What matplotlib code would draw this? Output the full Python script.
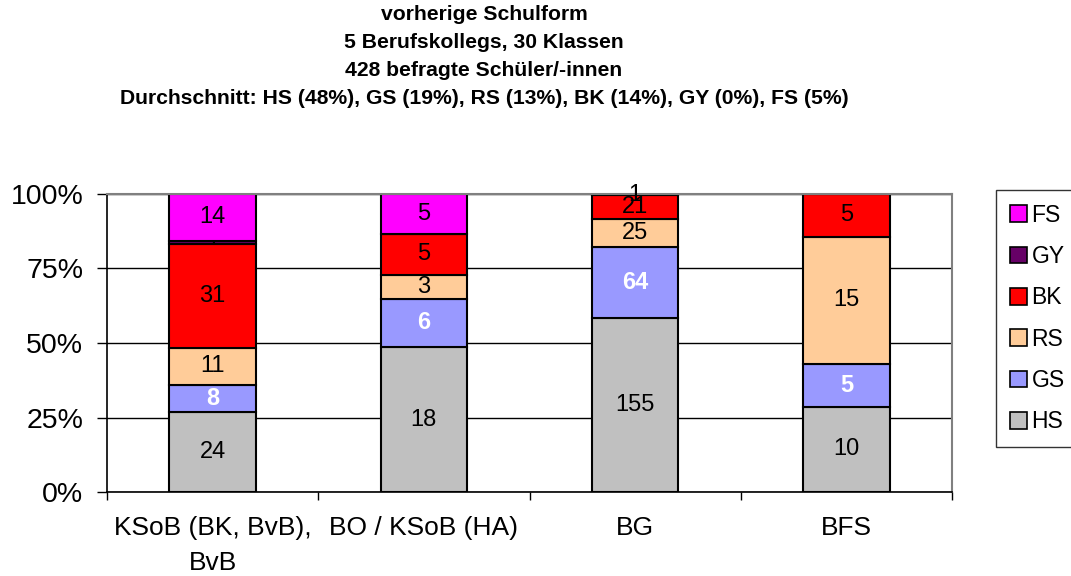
import matplotlib
matplotlib.use("Agg")
import matplotlib.pyplot as plt
from matplotlib.patches import Patch
from matplotlib.transforms import Bbox, TransformedBbox

plt.rcParams["font.family"] = ["Liberation Sans", "DejaVu Sans"]

categories = ["KSoB (BK, BvB),\nBvB", "BO / KSoB (HA)", "BG", "BFS"]
series = ["HS", "GS", "RS", "BK", "GY", "FS"]
colors = ["#C0C0C0", "#9999FF", "#FFCC99", "#FF0000", "#660066", "#FF00FF"]

hs = [24, 18, 155, 10]
gs = [8, 6, 64, 5]
rs = [11, 3, 25, 15]
bk = [31, 5, 21, 5]
gy = [1, 0, 1, 0]
fs = [14, 5, 0, 0]

title_lines = [
	"vorherige Schulform",
	"5 Berufskollegs, 30 Klassen",
	"428 befragte Schüler/-innen",
	"Durchschnitt: HS (48%), GS (19%), RS (13%), BK (14%), GY (0%), FS (5%)",
]

values = [hs, gs, rs, bk, gy, fs]
totals = [sum(col) for col in zip(*values)]
bar_width = 0.41

fig = plt.figure(figsize=(10.71, 5.76), dpi=100)
ax = fig.add_axes([107 / 1071, 84 / 576, 845 / 1071, 298 / 576])

x = list(range(len(categories)))
bottom = [0.0] * len(categories)
for name, vals, color in zip(series, values, colors):
	frac = [v / t for v, t in zip(vals, totals)]
	ax.bar(
		x, frac, width=bar_width, bottom=bottom, color=color,
		edgecolor="black", linewidth=1.5, zorder=2,
	)
	for i, (v, f) in enumerate(zip(vals, frac)):
		if v == 0:
			continue
		yc = bottom[i] + f / 2
		if name == "GS":
			txt = ax.text(i, yc, str(v), ha="center", va="center",
				fontsize=17, color="white", fontweight="bold", zorder=4)
		else:
			txt = ax.text(i, yc, str(v), ha="center", va="center",
				fontsize=17, color="black", zorder=4)
		if name == "GY" and i == 0:
			# label squeezed into the thin segment, only a sliver shows
			box = Bbox([[i - bar_width / 2, bottom[i]], [i + bar_width / 2, bottom[i] + f]])
			txt.set_clip_box(TransformedBbox(box, ax.transData))
			txt.set_clip_on(True)
	bottom = [b + f for b, f in zip(bottom, frac)]

ax.set_xlim(-0.5, len(categories) - 0.5)
ax.set_ylim(0, 1)

ax.set_yticks([0, 0.25, 0.5, 0.75, 1.0])
ax.set_yticklabels(["0%", "25%", "50%", "75%", "100%"], fontsize=20.5)
ax.tick_params(axis="y", direction="out", length=7, width=1, pad=10)
ax.yaxis.grid(True, color="black", linewidth=1)
ax.set_axisbelow(True)

ax.set_xticks([i - 0.5 for i in range(len(categories) + 1)])
ax.set_xticklabels([])
ax.set_xticks(x, minor=True)
ax.set_xticklabels(categories, minor=True, fontsize=19, linespacing=1.6)
ax.tick_params(axis="x", which="major", direction="out", length=6, width=1)
ax.tick_params(axis="x", which="minor", length=0, pad=17)

for side in ["left", "bottom"]:
	ax.spines[side].set_color("black")
	ax.spines[side].set_linewidth(1.2)
for side in ["top", "right"]:
	ax.spines[side].set_color("#808080")
	ax.spines[side].set_linewidth(1.5)

handles = [
	Patch(facecolor=c, edgecolor="black", linewidth=1.2, label=s)
	for s, c in zip(series, colors)
][::-1]
leg = fig.legend(
	handles=handles, loc="upper left",
	bbox_to_anchor=(996 / 1071, 1 - 190 / 576, 130 / 1071, 0),
	mode="expand",
	fontsize=16.5, frameon=True, fancybox=False, edgecolor="black",
	handlelength=0.75, handleheight=0.75, handletextpad=0.2,
	labelspacing=0.8, borderpad=0.6, borderaxespad=0,
)
leg.get_frame().set_linewidth(1)

fig.text(
	484 / 1071, 1 - 5 / 576, "\n".join(title_lines),
	ha="center", va="top", fontsize=15.2, fontweight="bold", linespacing=1.6,
)

fig.savefig("out.png", dpi=100)
